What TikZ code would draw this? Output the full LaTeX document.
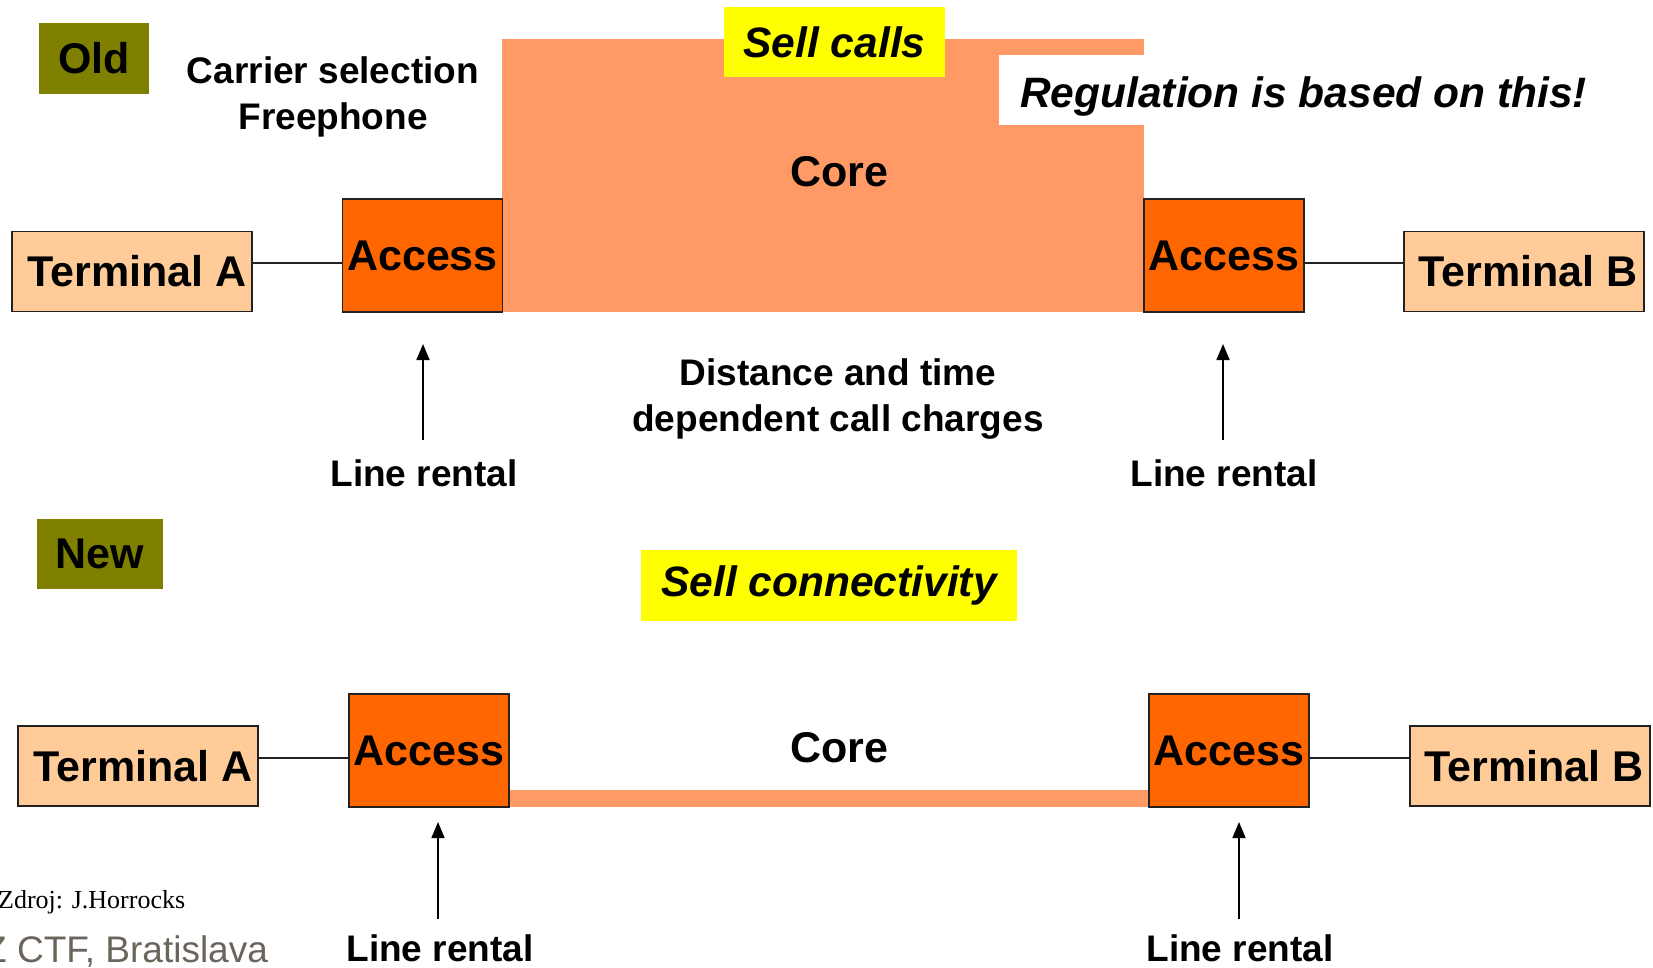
\documentclass[tikz,border=0pt]{standalone}
\usepackage{fontspec}
\setmainfont{Liberation Sans}
\newfontfamily\zdrojfont{Liberation Serif}
\usetikzlibrary{arrows.meta}
\definecolor{olivebox}{HTML}{808000}
\definecolor{accfill}{HTML}{FF6600}
\definecolor{termfill}{HTML}{FFCC99}
\definecolor{corefill}{HTML}{FF9966}
\definecolor{yellowbox}{HTML}{FFFF00}
\definecolor{edgecol}{HTML}{222222}
\definecolor{footgray}{HTML}{6B645A}
\begin{document}
\begin{tikzpicture}[x=1pt,y=-1pt,
  big/.style={font=\fontsize{43}{50}\selectfont\bfseries},
  bigit/.style={font=\fontsize{42.5}{50}\selectfont\bfseries\itshape},
  mid/.style={font=\fontsize{37}{46}\selectfont\bfseries},
  term/.style={draw=edgecol, line width=1.4pt, fill=termfill, minimum width=240pt, minimum height=80pt, inner sep=0pt, big},
  acc/.style={draw=edgecol, line width=1.4pt, fill=accfill, minimum width=160pt, minimum height=113pt, inner sep=0pt, big},
  tag/.style={fill=olivebox, inner sep=0pt, big},
  hilite/.style={fill=yellowbox, inner sep=0pt, bigit},
  conn/.style={draw=edgecol, line width=1.4pt},
  uparrow/.style={draw=black, line width=1.6pt, -{Triangle[width=13pt,length=16pt]}}
]
\useasboundingbox (0,0) rectangle (1653,968);

% ---------------- OLD ----------------
\node[tag, minimum width=110pt, minimum height=71pt] (old) at (94,58.5) {\raisebox{-1.5pt}{Old}};
\node[mid, align=center] (carrier) at (333,97) {Carrier selection\\Freephone};

% core block (old)
\fill[corefill] (502,39) rectangle (1144,312);
\node[big] (core1) at (839,172) {Core};
\fill[white] (999,55) rectangle (1625,125);
\node[anchor=west, inner xsep=0pt, bigit] (reg) at (1020,97) {Regulation is based on this!};
\node[hilite, minimum width=221pt, minimum height=70pt] (sellcalls) at (834.5,42) {Sell calls};

\node[term] (ta1) at (132,271.5) {\hspace*{10pt}Terminal A};
\node[acc] (a1) at (422.5,255.5) {Access};
\node[acc] (b1) at (1224,255.5) {Access};
\node[term] (tb1) at (1524,271.5) {\hspace*{8pt}Terminal B};

\draw[conn] ([yshift=8.5pt]ta1.east) -- ([yshift=-7.5pt]a1.west);
\draw[conn] ([yshift=-7.5pt]b1.east) -- ([yshift=8.5pt]tb1.west);

\node[mid] (lr1) at (424,473) {Line rental};
\node[mid] (lr2) at (1224,473) {Line rental};
\coordinate (lr1tail) at (423,440);
\coordinate (lr1head) at (423,344);
\coordinate (lr2tail) at (1223,440);
\coordinate (lr2head) at (1223,344);
\draw[uparrow] (lr1tail) -- (lr1head);
\draw[uparrow] (lr2tail) -- (lr2head);

\node[mid, align=center] (dist) at (838,399) {Distance and time\\dependent call charges};

% ---------------- NEW ----------------
\node[tag, minimum width=126pt, minimum height=70pt] (new) at (100,554) {\raisebox{-1.5pt}{New}};
\node[hilite, minimum width=376pt, minimum height=71pt] (sellconn) at (829,585.5) {Sell connectivity};

\fill[corefill] (509,790) rectangle (1149,807);
\node[big] (core2) at (839,748) {Core};

\node[term] (ta2) at (138,766) {\hspace*{10pt}Terminal A};
\node[acc] (a2) at (429,750.5) {Access};
\node[acc] (b2) at (1229,750.5) {Access};
\node[term] (tb2) at (1530,766) {\hspace*{8pt}Terminal B};

\draw[conn] ([yshift=8pt]ta2.east) -- ([yshift=-7.5pt]a2.west);
\draw[conn] ([yshift=-7.5pt]b2.east) -- ([yshift=8pt]tb2.west);

\node[mid, anchor=base] (lr3) at (440,961) {Line rental};
\node[mid, anchor=base] (lr4) at (1240,961) {Line rental};
\coordinate (lr3tail) at (438,919);
\coordinate (lr3head) at (438,822);
\coordinate (lr4tail) at (1239,919);
\coordinate (lr4head) at (1239,822);
\draw[uparrow] (lr3tail) -- (lr3head);
\draw[uparrow] (lr4tail) -- (lr4head);

% footer
\node[anchor=base west, inner sep=0pt, font=\zdrojfont\fontsize{26}{30}\selectfont] (zdroj) at (-2,908) {Zdroj: J.Horrocks};
\node[anchor=base west, inner sep=0pt, text=footgray, font=\fontsize{37}{44}\selectfont] (place) at (-16,962) {Z CTF, Bratislava};
\end{tikzpicture}
\end{document}
